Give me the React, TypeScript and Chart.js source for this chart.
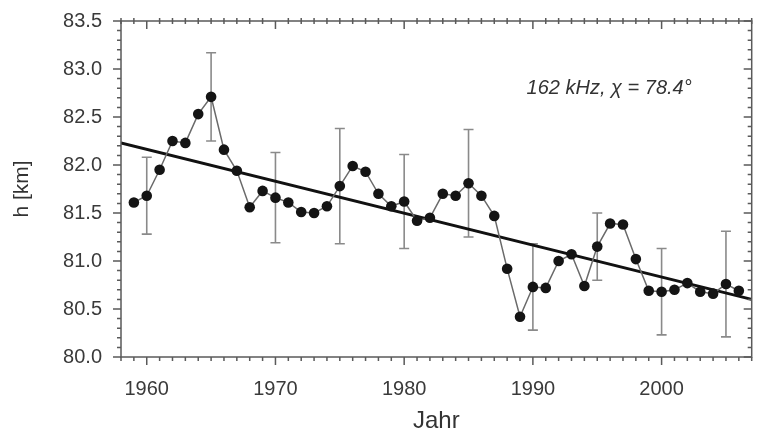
import React, { useEffect, useRef } from "react";
import { Chart, registerables } from "chart.js";

Chart.register(...registerables);

const years = [
  1959, 1960, 1961, 1962, 1963, 1964, 1965, 1966, 1967, 1968, 1969, 1970,
  1971, 1972, 1973, 1974, 1975, 1976, 1977, 1978, 1979, 1980, 1981, 1982,
  1983, 1984, 1985, 1986, 1987, 1988, 1989, 1990, 1991, 1992, 1993, 1994,
  1995, 1996, 1997, 1998, 1999, 2000, 2001, 2002, 2003, 2004, 2005, 2006,
];
const heights = [
  81.61, 81.68, 81.95, 82.25, 82.23, 82.53, 82.71, 82.16, 81.94, 81.56, 81.73, 81.66,
  81.61, 81.51, 81.5, 81.57, 81.78, 81.99, 81.93, 81.7, 81.57, 81.62, 81.42, 81.45,
  81.7, 81.68, 81.81, 81.68, 81.47, 80.92, 80.42, 80.73, 80.72, 81.0, 81.07, 80.74,
  81.15, 81.39, 81.38, 81.02, 80.69, 80.68, 80.7, 80.77, 80.68, 80.66, 80.76, 80.69,
];
const errorYears = [1960, 1965, 1970, 1975, 1980, 1985, 1990, 1995, 2000, 2005];
const errorHalfWidths = [0.4, 0.46, 0.47, 0.6, 0.49, 0.56, 0.45, 0.35, 0.45, 0.55];
const trendYears = [1958, 2007];
const trendValues = [82.23, 80.6];
const xTickValues = [1960, 1970, 1980, 1990, 2000];
const yTickValues = [80.0, 80.5, 81.0, 81.5, 82.0, 82.5, 83.0, 83.5];
const xMin = 1958;
const xMax = 2007;
const yMin = 80.0;
const yMax = 83.5;
const annotationText = "162 kHz, \u03C7 = 78.4\u00B0";
const xTitle = "Jahr";
const yTitle = "h [km]";

const FONT = "'Liberation Sans', Arial, Helvetica, sans-serif";

const errorBarPlugin = {
  id: "errorBars",
  beforeDatasetsDraw(chart: any) {
    const { ctx, scales } = chart;
    const xs = scales.x;
    const ys = scales.y;
    ctx.save();
    ctx.strokeStyle = "#8a8a8a";
    ctx.lineWidth = 1.6;
    errorYears.forEach((yr, i) => {
      const idx = years.indexOf(yr);
      if (idx < 0) return;
      const v = heights[idx];
      const e = errorHalfWidths[i];
      const px = xs.getPixelForValue(yr);
      const top = ys.getPixelForValue(v + e);
      const bot = ys.getPixelForValue(v - e);
      ctx.beginPath();
      ctx.moveTo(px, top);
      ctx.lineTo(px, bot);
      ctx.moveTo(px - 5, top);
      ctx.lineTo(px + 5, top);
      ctx.moveTo(px - 5, bot);
      ctx.lineTo(px + 5, bot);
      ctx.stroke();
    });
    ctx.restore();
  },
};

const framePlugin = {
  id: "frameTicks",
  afterDraw(chart: any) {
    const { ctx, chartArea, scales } = chart;
    const xs = scales.x;
    const ys = scales.y;
    const { left, right, top, bottom } = chartArea;
    ctx.save();
    ctx.strokeStyle = "#5a5a5a";
    ctx.lineWidth = 1.5;
    ctx.strokeRect(left, top, right - left, bottom - top);
    ctx.beginPath();
    for (let yr = xMin; yr <= xMax; yr++) {
      const px = xs.getPixelForValue(yr);
      const major = xTickValues.includes(yr);
      if (major) {
        ctx.moveTo(px, bottom);
        ctx.lineTo(px, bottom + 8);
        ctx.moveTo(px, top);
        ctx.lineTo(px, top + 8);
      } else {
        ctx.moveTo(px, bottom);
        ctx.lineTo(px, bottom + 4);
        ctx.moveTo(px, top - 3);
        ctx.lineTo(px, top + 3);
      }
    }
    for (let k = 0; k <= 35; k++) {
      const v = yMin + k * 0.1;
      const py = ys.getPixelForValue(v);
      const major = k % 5 === 0;
      if (major) {
        ctx.moveTo(left, py);
        ctx.lineTo(left - 8, py);
        ctx.moveTo(right, py);
        ctx.lineTo(right - 8, py);
      } else {
        ctx.moveTo(left, py);
        ctx.lineTo(left - 4, py);
        ctx.moveTo(right, py);
        ctx.lineTo(right - 4, py);
      }
    }
    ctx.stroke();

    ctx.fillStyle = "#333";
    ctx.font = `italic 20px ${FONT}`;
    ctx.textAlign = "right";
    ctx.textBaseline = "alphabetic";
    ctx.fillText(annotationText, right - 60, top + 73);
    ctx.restore();
  },
};

export default function App() {
  const canvasRef = useRef<HTMLCanvasElement | null>(null);

  useEffect(() => {
    if (!canvasRef.current) return;
    const dataPoints = years.map((yr, i) => ({ x: yr, y: heights[i] }));
    const trendPoints = trendYears.map((yr, i) => ({ x: yr, y: trendValues[i] }));

    const chart = new Chart(canvasRef.current, {
      type: "line",
      data: {
        datasets: [
          {
            label: "h",
            data: dataPoints,
            borderColor: "#6a6a6a",
            borderWidth: 1.5,
            pointRadius: 5.3,
            pointBackgroundColor: "#141414",
            pointBorderColor: "#141414",
            pointBorderWidth: 0,
            tension: 0,
            order: 0,
          },
          {
            label: "trend",
            data: trendPoints,
            borderColor: "#111",
            borderWidth: 3,
            pointRadius: 0,
            tension: 0,
            order: 1,
          },
        ],
      },
      options: {
        animation: false,
        responsive: true,
        maintainAspectRatio: false,
        layout: { padding: { top: 21, right: 2, left: 0, bottom: 0 } },
        plugins: {
          legend: { display: false },
          tooltip: { enabled: false },
        },
        scales: {
          x: {
            type: "linear",
            min: xMin,
            max: xMax,
            grid: { display: false, drawTicks: false },
            border: { display: false },
            afterBuildTicks: (scale: any) => {
              scale.ticks = xTickValues.map((v) => ({ value: v }));
            },
            afterFit: (scale: any) => {
              scale.height = 79;
              scale.paddingLeft = 0;
              scale.paddingRight = 0;
            },
            ticks: {
              padding: 20,
              color: "#3a3a3a",
              font: { family: FONT, size: 20 },
              callback: (v: any) => String(v),
              maxRotation: 0,
              autoSkip: false,
            },
            title: {
              display: true,
              text: xTitle,
              color: "#333",
              font: { family: FONT, size: 24 },
              padding: { top: 0, bottom: 0 },
            },
          },
          y: {
            type: "linear",
            min: yMin,
            max: yMax,
            grid: { display: false, drawTicks: false },
            border: { display: false },
            afterBuildTicks: (scale: any) => {
              scale.ticks = yTickValues.map((v) => ({ value: v }));
            },
            afterFit: (scale: any) => {
              scale.width = 121;
              scale.paddingTop = 0;
              scale.paddingBottom = 0;
            },
            ticks: {
              padding: 19,
              color: "#3a3a3a",
              font: { family: FONT, size: 20 },
              callback: (v: any) => Number(v).toFixed(1),
              autoSkip: false,
            },
            title: {
              display: true,
              text: yTitle,
              color: "#333",
              font: { family: FONT, size: 21 },
              padding: { top: 10, bottom: 0 },
            },
          },
        },
      },
      plugins: [errorBarPlugin, framePlugin],
    });
    return () => chart.destroy();
  }, []);

  return (
    <div
      style={{
        position: "absolute",
        left: 0,
        top: 0,
        width: 757,
        height: 436,
        background: "#fff",
      }}
    >
      <canvas ref={canvasRef} />
    </div>
  );
}
